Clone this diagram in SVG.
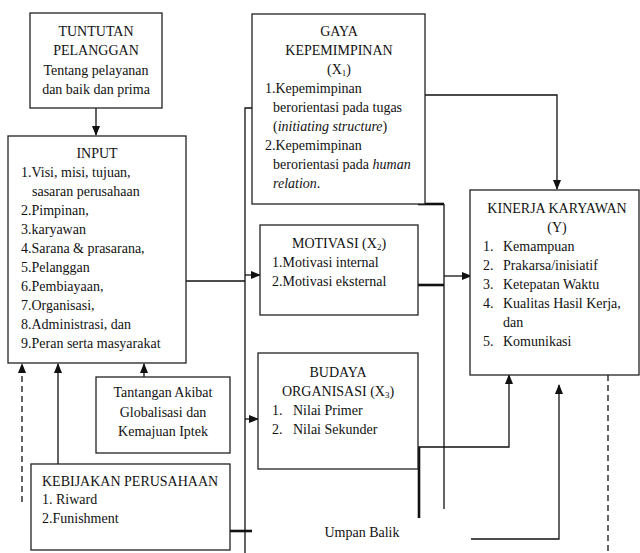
<svg xmlns="http://www.w3.org/2000/svg" width="640" height="553" viewBox="0 0 640 553" font-family="'Liberation Serif', 'Times New Roman', 'DejaVu Serif', serif">
<style>
.box{fill:#fff;stroke:#222;stroke-width:1.3}
text{font-family:'Liberation Serif','Times New Roman','DejaVu Serif',serif;font-size:14px;fill:#111}
.c{text-anchor:middle}
.ln{fill:none;stroke:#111;stroke-width:1.3}
.thk{fill:none;stroke:#111;stroke-width:2.6}
.dash{fill:none;stroke:#111;stroke-width:1.3;stroke-dasharray:6 4}
.sub{font-size:9px}
.i{font-style:italic}
</style>
<defs>
<marker id="ah" markerWidth="10" markerHeight="8" refX="9" refY="4" orient="auto" markerUnits="userSpaceOnUse">
<path d="M0,0 L10,4 L0,8 Z" fill="#111"/>
</marker>
</defs>
<g id="connectors">
<path class="ln" d="M96,108 V135" marker-end="url(#ah)"/>
<path class="ln" d="M186,281 H245"/>
<path class="ln" d="M245,553 V108 H261" marker-end="url(#ah)"/>
<path class="ln" d="M245,275 H260" marker-end="url(#ah)"/>
<path class="ln" d="M245,419 H258" marker-end="url(#ah)"/>
<path class="ln" d="M425,95 H557 V189" marker-end="url(#ah)"/>
<path class="thk" d="M418,204 H444"/>
<path class="ln" d="M444,204 V509"/>
<path class="thk" d="M418,285 H444"/>
<path class="ln" d="M444,276 H471" marker-end="url(#ah)"/>
<path class="ln" d="M418,447 H509 V375" marker-end="url(#ah)"/>
<path class="thk" d="M419,447 V518"/>
<path class="ln" d="M471,539 H559 V385" marker-end="url(#ah)"/>
<path class="dash" d="M608,375 V553"/>
<path class="dash" d="M22,502 V364" marker-end="url(#ah)"/>
<path class="ln" d="M58,464 V364" marker-end="url(#ah)"/>
<path class="ln" d="M144,377 V364" marker-end="url(#ah)"/>
<path class="thk" d="M230,531 H252"/>
<text x="362" y="537" class="c">Umpan Balik</text>
</g>
<g id="tuntutan">
<rect class="box" x="30" y="13" width="132" height="95"/>
<text x="96" y="36" class="c">TUNTUTAN</text>
<text x="96" y="55" class="c">PELANGGAN</text>
<text x="96" y="75" class="c">Tentang pelayanan</text>
<text x="96" y="94" class="c">dan baik dan prima</text>
</g>
<g id="input">
<rect class="box" x="8" y="136" width="178" height="227"/>
<text x="97" y="158" class="c">INPUT</text>
<text x="21" y="177">1.Visi, misi, tujuan,</text>
<text x="32" y="196">sasaran perusahaan</text>
<text x="21" y="215">2.Pimpinan,</text>
<text x="21" y="234">3.karyawan</text>
<text x="21" y="253">4.Sarana &amp; prasarana,</text>
<text x="21" y="272">5.Pelanggan</text>
<text x="21" y="291">6.Pembiayaan,</text>
<text x="21" y="310">7.Organisasi,</text>
<text x="21" y="329">8.Administrasi, dan</text>
<text x="21" y="348">9.Peran serta masyarakat</text>
</g>
<g id="gaya">
<rect class="box" x="252" y="14" width="173" height="190"/>
<text x="339" y="36" class="c">GAYA</text>
<text x="339" y="55" class="c">KEPEMIMPINAN</text>
<text x="339" y="74" class="c">(X<tspan class="sub" dy="2">1</tspan><tspan dy="-2">)</tspan></text>
<text x="265" y="93">1.Kepemimpinan</text>
<text x="273" y="112">berorientasi pada tugas</text>
<text x="273" y="131">(<tspan class="i">initiating structure</tspan>)</text>
<text x="265" y="150">2.Kepemimpinan</text>
<text x="273" y="169">berorientasi pada <tspan class="i">human</tspan></text>
<text x="273" y="188"><tspan class="i">relation</tspan>.</text>
</g>
<g id="motivasi">
<rect class="box" x="260" y="225" width="158" height="90"/>
<text x="339" y="248" class="c">MOTIVASI (X<tspan class="sub" dy="2">2</tspan><tspan dy="-2">)</tspan></text>
<text x="272" y="267">1.Motivasi internal</text>
<text x="272" y="286">2.Motivasi eksternal</text>
</g>
<g id="budaya">
<rect class="box" x="258" y="353" width="160" height="116"/>
<text x="338" y="377" class="c">BUDAYA</text>
<text x="338" y="396" class="c">ORGANISASI (X<tspan class="sub" dy="2">3</tspan><tspan dy="-2">)</tspan></text>
<text x="272" y="415">1.</text><text x="293" y="415">Nilai Primer</text>
<text x="272" y="434">2.</text><text x="293" y="434">Nilai Sekunder</text>
</g>
<g id="kinerja">
<rect class="box" x="470" y="190" width="169" height="185"/>
<text x="557" y="213" class="c">KINERJA KARYAWAN</text>
<text x="557" y="232" class="c">(Y)</text>
<text x="483" y="251">1.</text><text x="503" y="251">Kemampuan</text>
<text x="483" y="270">2.</text><text x="503" y="270">Prakarsa/inisiatif</text>
<text x="483" y="289">3.</text><text x="503" y="289">Ketepatan Waktu</text>
<text x="483" y="308">4.</text><text x="503" y="308">Kualitas Hasil Kerja,</text>
<text x="503" y="327">dan</text>
<text x="483" y="346">5.</text><text x="503" y="346">Komunikasi</text>
</g>
<g id="tantangan">
<rect class="box" x="96" y="377" width="134" height="76"/>
<text x="163" y="397" class="c">Tantangan Akibat</text>
<text x="163" y="417" class="c">Globalisasi dan</text>
<text x="163" y="436" class="c">Kemajuan Iptek</text>
</g>
<g id="kebijakan">
<rect class="box" x="31" y="464" width="199" height="86"/>
<text x="42" y="486">KEBIJAKAN PERUSAHAAN</text>
<text x="42" y="504">1. Riward</text>
<text x="42" y="523">2.Funishment</text>
</g>
</svg>
